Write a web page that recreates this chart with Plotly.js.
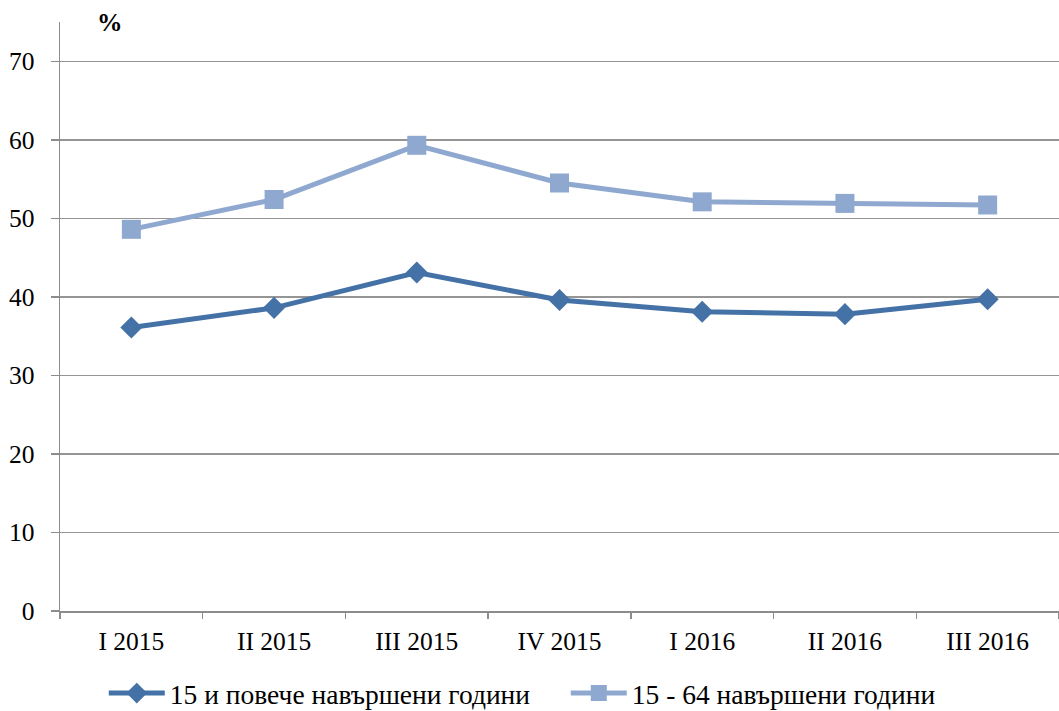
<!DOCTYPE html>
<html><head><meta charset="utf-8">
<script src="https://cdn.plot.ly/plotly-3.0.1.min.js"></script>
<style>html,body{margin:0;padding:0;background:#fff}#c{width:1059px;height:711px}</style>
</head><body><div id="c"></div>
<script>
const categories = ["I 2015","II 2015","III 2015","IV 2015","I 2016","II 2016","III 2016"];
const series1Name = "15 и повече навършени години";
const series1 = [36.1, 38.6, 43.1, 39.6, 38.1, 37.8, 39.7];
const series2Name = "15 - 64 навършени години";
const series2 = [48.6, 52.4, 59.3, 54.5, 52.1, 51.9, 51.7];
const yTicks = [0,10,20,30,40,50,60,70];

const FAM = "'Liberation Serif', 'Times New Roman', serif";
const FS = 25.5;
const font = {family: FAM, color: "#000", size: FS};
const traces = [
  {x: categories, y: series1, name: series1Name, type: "scatter", mode: "lines+markers",
   line: {color: "#4472A7", width: 5}, marker: {symbol: "diamond", size: 17, color: "#4472A7"}},
  {x: categories, y: series2, name: series2Name, type: "scatter", mode: "lines+markers",
   line: {color: "#8FA8D0", width: 5}, marker: {symbol: "square", size: 19, color: "#8FA8D0"}}
];
const layout = {
  width: 1059, height: 711,
  margin: {l: 60, r: 0, t: 22, b: 100},
  paper_bgcolor: "#fff", plot_bgcolor: "#fff",
  font: font,
  showlegend: true,
  legend: {orientation: "h", x: 0.098, xanchor: "left", xref: "container", y: 0.025, yref: "container", yanchor: "middle",
           font: {family: FAM, size: 27.5, color: "#000"}, itemwidth: 56, entrywidth: 391, tracegroupgap: 0},
  xaxis: {type: "category", range: [-0.5, 6.5], automargin: false, showgrid: false, showline: true, linecolor: "#8c8c8c", linewidth: 1.5,
          ticks: "outside", tickson: "boundaries", ticklen: 6, tickcolor: "#8c8c8c", tickwidth: 1.5,
          ticklabelstandoff: 7,
          tickfont: {family: FAM, size: FS, color: "#000"}, zeroline: false, fixedrange: true},
  yaxis: {range: [0, 75], automargin: false, tickvals: yTicks, ticktext: yTicks.map(String), showgrid: true,
          gridcolor: "#959595", gridwidth: 1.5, showline: true, linecolor: "#8c8c8c", linewidth: 1.5,
          ticks: "outside", ticklen: 8, tickcolor: "#8c8c8c", tickwidth: 1.5, zeroline: false,
          ticklabelstandoff: 11,
          tickfont: {family: FAM, size: FS, color: "#000"}},
  annotations: [{text: "<b>%</b>", xref: "paper", yref: "paper", x: 0.05, y: 1.0, xanchor: "center", yanchor: "middle",
                 showarrow: false, font: {family: FAM, size: FS, color: "#000"}}]
};
Plotly.newPlot("c", traces, layout, {displayModeBar: false, staticPlot: true});
</script></body></html>
